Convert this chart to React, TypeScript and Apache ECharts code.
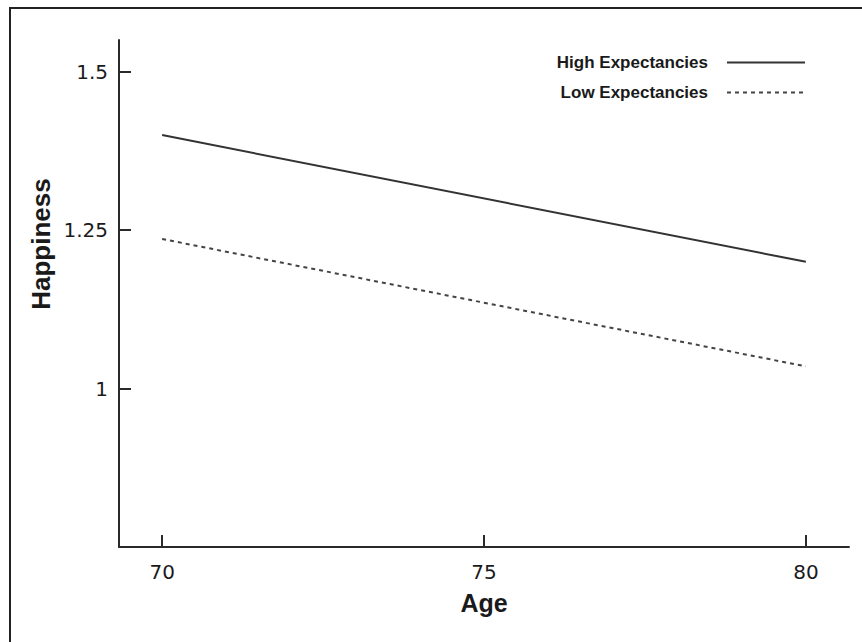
import React, { useEffect, useRef } from "react";
import * as echarts from "echarts";

const ages = [70, 80];
const highExpectancies = [1.4, 1.2];
const lowExpectancies = [1.236, 1.035];
const xTicks = [70, 75, 80];
const yTicks = [1, 1.25, 1.5];
const seriesNames = ["High Expectancies", "Low Expectancies"];

export default function App() {
  const ref = useRef<HTMLDivElement>(null);
  useEffect(() => {
    document.body.style.margin = "0";
    const chart = echarts.init(ref.current!, null, { renderer: "svg" });
    const ink = "#2a2a2a";
    chart.setOption({
      animation: false,
      backgroundColor: "#ffffff",
      grid: { left: 119, right: 13, top: 40, bottom: 95 },
      legend: {
        orient: "vertical",
        right: 51,
        top: 49,
        align: "right",
        itemWidth: 78,
        itemHeight: 14,
        itemGap: 13,
        selectedMode: false,
        itemStyle: { opacity: 0 },
        textStyle: {
          fontFamily: "Liberation Sans",
          fontWeight: "bold",
          fontSize: 17,
          color: "#1a1a1a",
          padding: [0, 14, 0, 0],
        },
        data: seriesNames,
      },
      xAxis: {
        type: "value",
        min: 69.33,
        max: 80.67,
        splitLine: { show: false },
        axisLine: { lineStyle: { color: ink, width: 2 } },
        axisTick: {
          inside: true,
          length: 12,
          customValues: xTicks,
          lineStyle: { color: ink, width: 2 },
        },
        axisLabel: {
          customValues: xTicks,
          margin: 15,
          fontFamily: "DejaVu Sans",
          fontSize: 20,
          color: "#1a1a1a",
        },
        name: "Age",
        nameLocation: "middle",
        nameGap: 43,
        nameTextStyle: {
          fontFamily: "Liberation Sans",
          fontWeight: "bold",
          fontSize: 25,
          color: "#1a1a1a",
        },
      },
      yAxis: {
        type: "value",
        min: 0.75,
        max: 1.55,
        splitLine: { show: false },
        axisLine: { show: true, lineStyle: { color: ink, width: 2 } },
        axisTick: {
          show: true,
          inside: true,
          length: 12,
          customValues: yTicks,
          lineStyle: { color: ink, width: 2 },
        },
        axisLabel: {
          customValues: yTicks,
          margin: 11,
          fontFamily: "DejaVu Sans",
          fontSize: 20,
          color: "#1a1a1a",
        },
      },
      graphic: [
        {
          type: "text",
          x: 41,
          y: 244,
          rotation: Math.PI / 2,
          style: {
            text: "Happiness",
            fontFamily: "Liberation Sans",
            fontWeight: "bold",
            fontSize: 26,
            fill: "#1a1a1a",
            align: "center",
            verticalAlign: "middle",
          },
        },
        {
          type: "polyline",
          shape: { points: [[10, 645], [10, 8], [865, 8]] },
          style: { stroke: "#222", lineWidth: 2, fill: "none" },
        },
      ],
      series: [
        {
          name: seriesNames[0],
          type: "line",
          data: ages.map((a, i) => [a, highExpectancies[i]]),
          symbol: "none",
          lineStyle: { color: "#333", width: 2, type: "solid" },
          itemStyle: { color: "#333" },
        },
        {
          name: seriesNames[1],
          type: "line",
          data: ages.map((a, i) => [a, lowExpectancies[i]]),
          symbol: "none",
          lineStyle: { color: "#444", width: 2, type: [4, 4] },
          itemStyle: { color: "#444" },
        },
      ],
    });
    return () => chart.dispose();
  }, []);
  return <div ref={ref} style={{ width: 862, height: 642 }} />;
}
